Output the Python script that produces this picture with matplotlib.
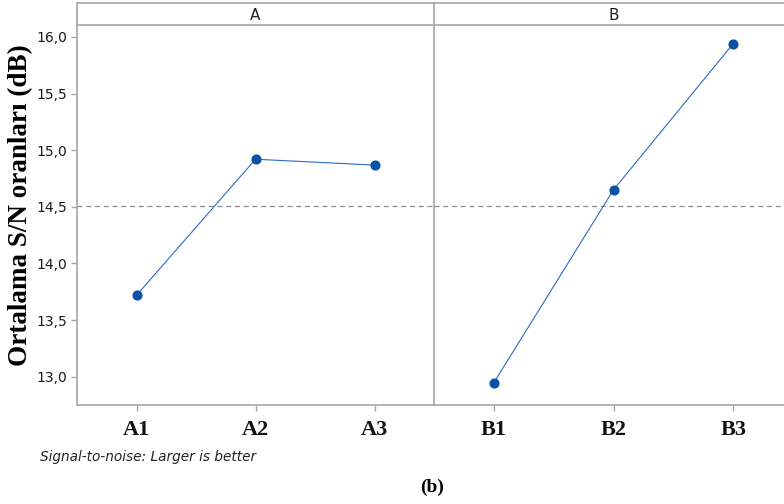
import matplotlib.pyplot as plt

# main effects plot for S/N ratios
levels_a = ['A1', 'A2', 'A3']
sn_a = [13.718, 14.92, 14.868]
levels_b = ['B1', 'B2', 'B3']
sn_b = [12.947, 14.65, 15.94]
y_ticks = [13.0, 13.5, 14.0, 14.5, 15.0, 15.5, 16.0]
grand_mean = 14.507

W, H = 784, 504
frame_col = '#a6a6a6'
line_col = '#2b6cc4'
dot_col = '#0a52a5'

fig = plt.figure(figsize=(W / 100, H / 100), dpi=100)

def box(x0, y0, x1, y1):
    # pixel box (top-left origin) -> figure fraction
    return [x0 / W, 1 - y1 / H, (x1 - x0) / W, (y1 - y0) / H]

panels = [('A', levels_a, sn_a, 77, 434), ('B', levels_b, sn_b, 434, 793)]
axes = []
for name, labels, vals, x0, x1 in panels:
    ax = fig.add_axes(box(x0, 25, x1, 405))
    ax.plot(range(3), vals, color=line_col, lw=0.8, marker='o', ms=6.3,
            mfc=dot_col, mec=dot_col, zorder=3)
    ax.axhline(grand_mean, color='#8c8c8c', lw=0.9, ls=(0, (4, 3)), zorder=1)
    ax.set_xlim(-0.5, 2.5)
    ax.set_ylim(12.75, 16.105)
    ax.set_xticks(range(3))
    ax.set_xticklabels(labels, fontfamily='Liberation Serif', fontweight='bold',
                       fontsize=16, color='#111111')
    ax.tick_params(axis='x', length=4, width=1, color=frame_col, pad=7)
    for side in ['top', 'right']:
        ax.spines[side].set_visible(False)
    for side in ['left', 'bottom']:
        ax.spines[side].set_color(frame_col)
        ax.spines[side].set_linewidth(1.2)
    # strip on top
    st = fig.add_axes(box(x0, 3, x1, 25))
    st.set_xticks([])
    st.set_yticks([])
    for side in ['bottom', 'right']:
        st.spines[side].set_visible(False)
    for side in ['top', 'left']:
        st.spines[side].set_color(frame_col)
        st.spines[side].set_linewidth(1.2)
    st.text(0.5, 0.45, name, transform=st.transAxes, ha='center', va='center',
            fontsize=11, color='#222222')
    axes.append(ax)

# the horizontal line under the strips
fig.add_artist(plt.Line2D([77 / W, 1], [1 - 25 / H, 1 - 25 / H], color=frame_col, lw=1.2))

ax1, ax2 = axes
ax1.set_yticks(y_ticks)
ax1.set_yticklabels([('%.1f' % v).replace('.', ',') for v in y_ticks],
                    fontsize=10, color='#1a1a1a')
ax1.tick_params(axis='y', length=4, width=1, color=frame_col, pad=3)
ax2.set_yticks([])

fig.text(21 / W, 1 - 205 / H, 'Ortalama S/N oranları (dB)', fontfamily='Liberation Serif',
         fontweight='bold', fontsize=19.5, rotation=90, ha='center', va='center')

fig.text(40 / W, 1 - 457 / H, 'Signal-to-noise: Larger is better', fontsize=9.8,
         fontstyle='italic', color='#222222', va='center', ha='left')
fig.text(432 / W, 1 - 487 / H, '(b)', fontfamily='Liberation Serif',
         fontweight='bold', fontsize=14, ha='center', va='center')

fig.savefig('out.png', dpi=100)
